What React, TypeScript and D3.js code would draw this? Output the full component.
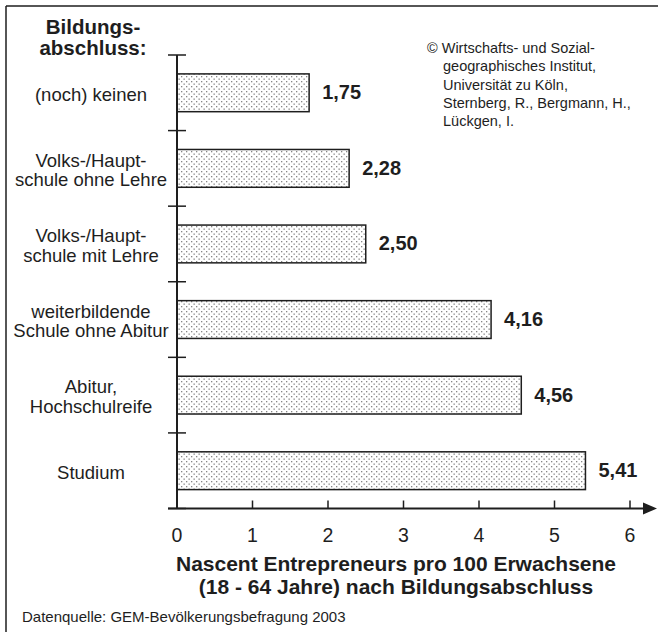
import React from 'react';
import * as d3 from 'd3';

// Bildungsabschluss categories (multi-line labels) and values
const categories = [
  ['(noch) keinen'],
  ['Volks-/Haupt-', 'schule ohne Lehre'],
  ['Volks-/Haupt-', 'schule mit Lehre'],
  ['weiterbildende', 'Schule ohne Abitur'],
  ['Abitur,', 'Hochschulreife'],
  ['Studium'],
];
const values = [1.75, 2.28, 2.5, 4.16, 4.56, 5.41];
const xTicks = [0, 1, 2, 3, 4, 5, 6];
const credits = [
  '\u00A9 Wirtschafts- und Sozial-',
  'geographisches Institut,',
  'Universit\u00E4t zu K\u00F6ln,',
  'Sternberg, R., Bergmann, H.,',
  'L\u00FCckgen, I.',
];
const xTitle = ['Nascent Entrepreneurs pro 100 Erwachsene', '(18 - 64 Jahre) nach Bildungsabschluss'];
const source = 'Datenquelle: GEM-Bev\u00F6lkerungsbefragung 2003';

const width = 658;
const height = 632;
const font = 'Arial, "Liberation Sans", Helvetica, sans-serif';
const ink = '#1e1e1e';

export default function App() {
  const x = d3.scaleLinear().domain([0, 6]).range([177, 630]);
  const y = d3
    .scaleBand<number>()
    .domain(d3.range(categories.length))
    .range([55, 508.5])
    .paddingInner(0.5)
    .paddingOuter(0.25);
  const step = y.step();
  const axisY = 508.5;
  const fmt = (v: number) => v.toFixed(2).replace('.', ',');

  return (
    <svg
      width={width}
      height={height}
      style={{ position: 'absolute', left: 0, top: 0, background: '#fff' }}
      fontFamily={font}
    >
      <defs>
        <pattern id="dots" width="5" height="5" patternUnits="userSpaceOnUse">
          <rect width="5" height="5" fill="#fff" />
          <rect x="1" y="1" width="1.3" height="1.3" fill="#858585" />
          <rect x="3.5" y="3.5" width="1.3" height="1.3" fill="#858585" />
        </pattern>
      </defs>

      {/* frame */}
      <line x1={6} y1={6} x2={width} y2={6} stroke={ink} strokeWidth={1.5} />
      <line x1={6} y1={6} x2={6} y2={height} stroke={ink} strokeWidth={1.5} />

      {/* category heading */}
      <text x={93} y={34} textAnchor="middle" fontWeight="bold" fontSize={20.5} fill={ink}>
        Bildungs-
      </text>
      <text x={93} y={55} textAnchor="middle" fontWeight="bold" fontSize={20.5} fill={ink}>
        abschluss:
      </text>

      {/* credits */}
      {credits.map((c, i) => (
        <text key={i} x={i === 0 ? 427 : 443} y={53 + i * 18.25} fontSize={14.5} fill={ink}>
          {c}
        </text>
      ))}

      {/* bars */}
      {values.map((v, i) => {
        const cy = (y(i) as number) + y.bandwidth() / 2;
        const n = categories[i].length;
        return (
          <g key={i}>
            <rect
              x={x(0)}
              y={y(i)}
              width={x(v) - x(0)}
              height={y.bandwidth()}
              fill="url(#dots)"
              stroke={ink}
              strokeWidth={1.5}
            />
            <text x={x(v) + 13} y={cy + 6.5} fontWeight="bold" fontSize={20} fill={ink}>
              {fmt(v)}
            </text>
            {categories[i].map((line, j) => (
              <text
                key={j}
                x={91}
                y={cy + 8 + (j - (n - 1) / 2) * 19.5}
                textAnchor="middle"
                fontSize={18.5}
                fill={ink}
              >
                {line}
              </text>
            ))}
          </g>
        );
      })}

      {/* category separators on y axis */}
      {d3.range(categories.length + 1).map((i) => {
        const ty = 55 + i * step;
        return <line key={i} x1={168} x2={186} y1={ty} y2={ty} stroke={ink} strokeWidth={1.5} />;
      })}
      <line x1={x(0)} x2={x(0)} y1={55} y2={axisY} stroke={ink} strokeWidth={2} />

      {/* x axis with arrow */}
      <line x1={168} x2={645} y1={axisY} y2={axisY} stroke={ink} strokeWidth={2} />
      <path d={`M 643 ${axisY - 6} L 657 ${axisY} L 643 ${axisY + 6} Z`} fill={ink} />
      {xTicks.map((t) => (
        <g key={t}>
          <line x1={x(t)} x2={x(t)} y1={axisY} y2={axisY - 8} stroke={ink} strokeWidth={1.5} />
          <text x={x(t)} y={542} textAnchor="middle" fontSize={19.5} fill={ink}>
            {t}
          </text>
        </g>
      ))}

      {/* x title */}
      {xTitle.map((line, i) => (
        <text key={i} x={396} y={571 + i * 22.5} textAnchor="middle" fontWeight="bold" fontSize={21} fill={ink}>
          {line}
        </text>
      ))}

      <text x={22} y={622} fontSize={15} fill={ink}>
        {source}
      </text>
    </svg>
  );
}
